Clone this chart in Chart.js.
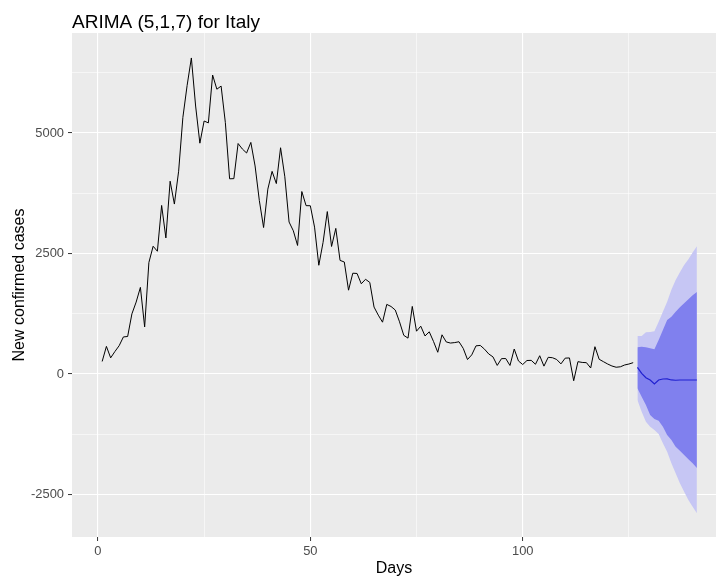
<!DOCTYPE html>
<html>
<head>
<meta charset="utf-8">
<title>ARIMA (5,1,7) for Italy</title>
<script src="https://cdn.jsdelivr.net/npm/chart.js@4"></script>
<style>
  html, body { margin: 0; padding: 0; background: #ffffff; }
  canvas { display: block; }
</style>
</head>
<body>
<canvas id="arima-chart" width="718" height="580"></canvas>
<script>
// --- données ---
const chartTitle = 'ARIMA (5,1,7) for Italy';
const xLabel = 'Days';
const yLabel = 'New confirmed cases';

// nouveaux cas observés, jour 1 à 126
const newCases = [
  260, 573, 335, 466, 587, 769, 778, 1247, 1492, 1797,
  977, 2313, 2651, 2547, 3497, 2823, 4000, 3526, 4207, 5322,
  5986, 6557, 5560, 4789, 5249, 5210, 6203, 5909, 5974, 5217,
  4050, 4053, 4782, 4668, 4585, 4805, 4316, 3599, 3039, 3836,
  4204, 3951, 4694, 4092, 3153, 2972, 2667, 3786, 3493, 3491,
  3047, 2256, 2729, 3370, 2646, 3021, 2357, 2324, 1739, 2091,
  2086, 1872, 1965, 1900, 1389, 1221, 1075, 1444, 1401, 1327,
  1083, 802, 744, 1402, 888, 992, 789, 875, 675, 451,
  813, 665, 642, 652, 669, 531, 300, 397, 584, 593,
  516, 416, 355, 178, 318, 321, 177, 518, 270, 197,
  280, 283, 202, 379, 163, 346, 338, 301, 210, 329,
  333, -140, 256, 240, 235, 125, 566, 305, 256, 207,
  166, 140, 150, 187, 207, 235
];
const obsDays = newCases.map((_, i) => i + 1);

// prévision (moyenne + intervalles 80 % et 95 %)
const fcDays   = [127, 128, 129, 130, 131, 132, 133, 134, 135, 136, 137, 138, 139, 140, 141];
const fcMean   = [139, 14, -76, -124, -207, -124, -104, -100, -124, -130, -125, -125, -125, -125, -125];
const lo80     = [-297, -470, -643, -851, -934, -968, -1093, -1266, -1370, -1508, -1591, -1681, -1771, -1854, -1950];
const hi80     = [553, 566, 553, 532, 511, 705, 913, 1120, 1190, 1293, 1384, 1467, 1550, 1633, 1700];
const lo95     = [-540, -782, -990, -1093, -1162, -1245, -1439, -1612, -1854, -2060, -2268, -2442, -2615, -2753, -2890];
const hi95     = [789, 789, 864, 871, 885, 1086, 1293, 1500, 1750, 1950, 2110, 2260, 2380, 2520, 2650];

// graduations (principales avec libellé, secondaires = lignes fines)
const xTicks = [0, 50, 100];
const xGrid  = [0, 25, 50, 75, 100, 125];
const yTicks = [-2500, 0, 2500, 5000];
const yGrid  = [-2500, -1250, 0, 1250, 2500, 3750, 5000, 6250];

const FONT = '"Liberation Sans", Arial, sans-serif';

const pts = (xs, ys) => xs.map((x, i) => ({ x: x, y: ys[i] }));

// fond gris du panneau + titre à gauche
const ggPanel = {
  id: 'ggPanel',
  beforeDraw(chart) {
    const { ctx, chartArea: a } = chart;
    ctx.save();
    ctx.fillStyle = '#ebebeb';
    ctx.fillRect(a.left, a.top, a.right - a.left, a.bottom - a.top);
    ctx.fillStyle = '#000000';
    ctx.font = '19px ' + FONT;
    ctx.textAlign = 'left';
    ctx.textBaseline = 'alphabetic';
    ctx.fillText(chartTitle, a.left, 28);
    ctx.restore();
  }
};

const isMajor = (v, list) => list.includes(v);

new Chart(document.getElementById('arima-chart'), {
  type: 'line',
  data: {
    datasets: [
      {
        label: 'observed',
        data: pts(obsDays, newCases),
        borderColor: '#000000',
        borderWidth: 1,
        pointRadius: 0,
        fill: false,
        order: 0
      },
      {
        label: 'forecast',
        data: pts(fcDays, fcMean),
        borderColor: '#2020d0',
        borderWidth: 1.2,
        pointRadius: 0,
        fill: false,
        order: 1
      },
      {
        label: 'hi80',
        data: pts(fcDays, hi80),
        borderWidth: 0,
        borderColor: 'rgba(0,0,0,0)',
        backgroundColor: '#8080ee',
        pointRadius: 0,
        fill: '+1',
        order: 2
      },
      {
        label: 'lo80',
        data: pts(fcDays, lo80),
        borderWidth: 0,
        borderColor: 'rgba(0,0,0,0)',
        pointRadius: 0,
        fill: false,
        order: 3
      },
      {
        label: 'hi95',
        data: pts(fcDays, hi95),
        borderWidth: 0,
        borderColor: 'rgba(0,0,0,0)',
        backgroundColor: '#c6c6f4',
        pointRadius: 0,
        fill: '+1',
        order: 4
      },
      {
        label: 'lo95',
        data: pts(fcDays, lo95),
        borderWidth: 0,
        borderColor: 'rgba(0,0,0,0)',
        pointRadius: 0,
        fill: false,
        order: 5
      }
    ]
  },
  options: {
    responsive: false,
    animation: false,
    events: [],
    layout: { padding: { top: 33, right: 2, bottom: 0, left: 0 } },
    plugins: {
      legend: { display: false },
      title: { display: false },
      tooltip: { enabled: false }
    },
    scales: {
      x: {
        type: 'linear',
        min: -6.1,
        max: 145.5,
        border: { display: false },
        afterBuildTicks(scale) { scale.ticks = xGrid.map(v => ({ value: v })); },
        afterFit(scale) { scale.height = 43; },
        grid: {
          color: '#ffffff',
          lineWidth: c => isMajor(c.tick.value, xTicks) ? 1.1 : 0.55,
          tickColor: c => isMajor(c.tick.value, xTicks) ? '#333333' : 'rgba(0,0,0,0)',
          tickLength: 4,
          tickWidth: 1
        },
        ticks: {
          maxRotation: 0,
          autoSkip: false,
          padding: 3,
          color: '#4d4d4d',
          font: { family: FONT, size: 12.9 },
          callback: v => isMajor(v, xTicks) ? String(v) : ''
        },
        title: {
          display: true,
          text: xLabel,
          color: '#000000',
          font: { family: FONT, size: 16 },
          padding: { top: 0, bottom: 1.5 }
        }
      },
      y: {
        type: 'linear',
        min: -3382,
        max: 7075,
        border: { display: false },
        afterBuildTicks(scale) { scale.ticks = yGrid.map(v => ({ value: v })); },
        afterFit(scale) { scale.width = 72; },
        grid: {
          color: '#ffffff',
          lineWidth: c => isMajor(c.tick.value, yTicks) ? 1.1 : 0.55,
          tickColor: c => isMajor(c.tick.value, yTicks) ? '#333333' : 'rgba(0,0,0,0)',
          tickLength: 4,
          tickWidth: 1
        },
        ticks: {
          autoSkip: false,
          padding: 4,
          color: '#4d4d4d',
          font: { family: FONT, size: 12.9 },
          callback: v => isMajor(v, yTicks) ? String(v) : ''
        },
        title: {
          display: true,
          text: yLabel,
          color: '#000000',
          font: { family: FONT, size: 16 },
          padding: { top: 10.4, bottom: 0 }
        }
      }
    }
  },
  plugins: [ggPanel]
});
</script>
</body>
</html>
